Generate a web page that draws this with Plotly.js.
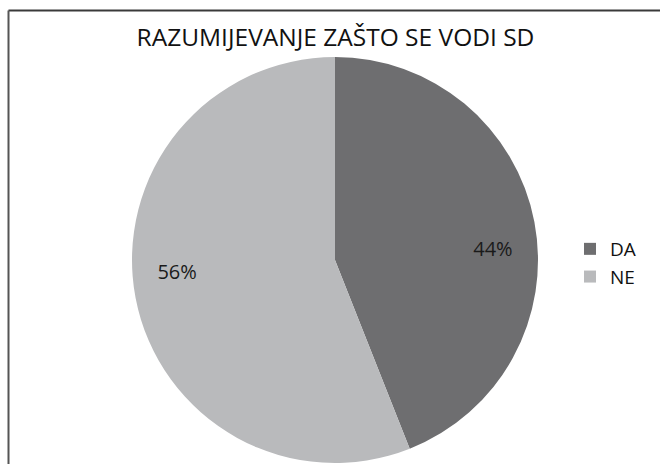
<!DOCTYPE html>
<html>
<head>
<meta charset="utf-8">
<script src="https://cdn.plot.ly/plotly-3.0.1.min.js"></script>
<style>
html,body{margin:0;padding:0;background:#fff;}
#chart{width:660px;height:464px;}
</style>
</head>
<body>
<div id="chart"></div>
<script>
const titleText = "RAZUMIJEVANJE ZAŠTO SE VODI SD";
const labels = ["DA", "NE"];
const values = [44, 56];
const colors = ["#6e6e70", "#b9babc"];

const W = 660, H = 464;
const dom = {x: [(335-203)/W, (335+203)/W], y: [1/H, 1-57/H]};

const pieTrace = {
  type: "pie",
  labels: labels,
  values: values,
  sort: false,
  direction: "clockwise",
  rotation: 0,
  marker: {colors: colors, line: {color: "#ffffff", width: 0}},
  textinfo: "none",
  hoverinfo: "none",
  domain: dom
};

// transparent ring carrying the percentage labels further out
const labelTrace = {
  type: "pie",
  labels: labels,
  values: values,
  sort: false,
  direction: "clockwise",
  rotation: 6.5,
  hole: 0.56,
  showlegend: false,
  marker: {colors: ["rgba(0,0,0,0)", "rgba(0,0,0,0)"], line: {width: 0}},
  textinfo: "percent",
  texttemplate: "%{percent:.0%}",
  textposition: "inside",
  insidetextorientation: "horizontal",
  textfont: {family: "Open Sans, sans-serif", size: 20, color: "#1a1a1a"},
  hoverinfo: "none",
  domain: dom
};

const layout = {
  width: W, height: H,
  margin: {l: 0, r: 0, t: 0, b: 0},
  paper_bgcolor: "#ffffff",
  title: {text: titleText, font: {family: "Open Sans, sans-serif", size: 24.5, color: "#111"}, x: 335.5/W, xanchor: "center", y: 1-37/H, yanchor: "middle"},
  showlegend: true,
  legend: {x: 570/W, xanchor: "left", y: 1-263/H, yanchor: "middle", font: {family: "Open Sans, sans-serif", size: 19, color: "#111"}, bgcolor: "rgba(0,0,0,0)"},
  shapes: [
    {type: "line", xref: "paper", yref: "paper", x0: 8.5/W, x1: 1, y0: 1-10.5/H, y1: 1-10.5/H, line: {color: "#3a3a3a", width: 2}},
    {type: "line", xref: "paper", yref: "paper", x0: 8.5/W, x1: 8.5/W, y0: 0, y1: 1-10.5/H, line: {color: "#555", width: 2}}
  ]
};

Plotly.newPlot("chart", [pieTrace, labelTrace], layout, {displayModeBar: false, staticPlot: true});
</script>
</body>
</html>
